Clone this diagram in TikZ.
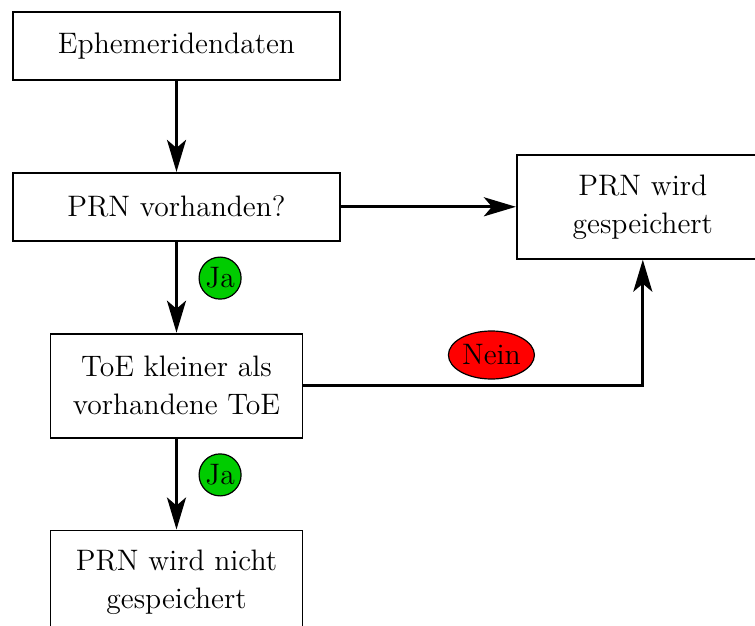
\documentclass[tikz,border=0pt]{standalone}
\usetikzlibrary{arrows.meta,positioning,shapes.geometric}

\begin{document}
\begin{tikzpicture}[
  x=0.5pt, y=-0.5pt,
  font=\fontsize{14.8pt}{19pt}\selectfont,
  node distance=45.5pt and 87.5pt,
  box/.style={draw, line width=0.9pt, align=center, minimum width=163.5pt, minimum height=34pt, inner sep=2pt},
  tallbox/.style={box, minimum width=126pt, minimum height=52pt},
  yes/.style={circle, draw, line width=0.6pt, fill=green!80!black, inner sep=1pt, minimum size=21pt},
  no/.style={ellipse, draw, line width=0.6pt, fill=red, minimum width=43pt, minimum height=24pt, inner sep=0pt},
  arrow/.style={-{Stealth[length=16pt, width=9.5pt, inset=4pt]}, line width=1.5pt}
]
\clip (0,0) rectangle (755,626);

\node[box] (ephem) at (176.5,46) {Ephemeridendaten};
\node[box, below=of ephem] (known) {PRN vorhanden?};
\node[tallbox, right=of known] (saved) {PRN wird\\gespeichert};
\node[tallbox, below=of known] (toe) {ToE kleiner als\\vorhandene ToE};
\node[tallbox, below=of toe] (notsaved) {PRN wird nicht\\gespeichert};

\draw[arrow] (ephem) -- (known);
\draw[arrow] (known) -- (saved);
\draw[arrow] (known) -- node[yes, pos=0.4, right=11pt] (ja1) {Ja} (toe);
\draw[arrow] (toe.east) -| node[no, pos=0.277, above=3pt] (nein) {Nein} (saved.south);
\draw[arrow] (toe) -- node[yes, pos=0.4, right=11pt] (ja2) {Ja} (notsaved);
\end{tikzpicture}
\end{document}
